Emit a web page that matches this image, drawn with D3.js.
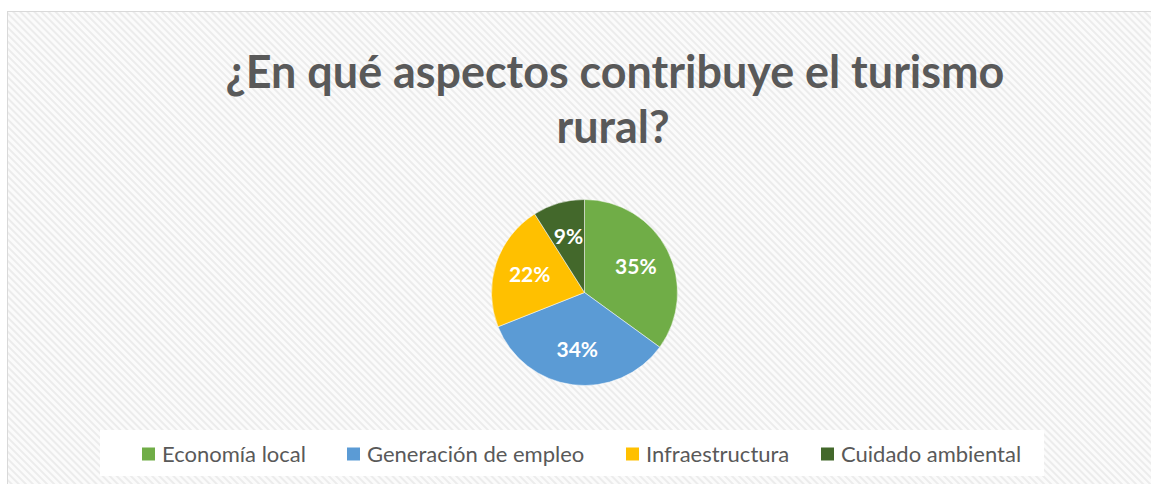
<!DOCTYPE html>
<html>
<head>
<meta charset="utf-8">
<script src="https://cdn.jsdelivr.net/npm/d3@7"></script>
<style>
  html, body { margin: 0; padding: 0; background: #fff; }
  svg { display: block; }
</style>
</head>
<body>
<svg id="chart" width="1151" height="484"></svg>
<script>
// Chart data
const TITLE_LINES = ['¿En qué aspectos contribuye el turismo', 'rural?'];
const CATEGORIES = ['Economía local', 'Generación de empleo', 'Infraestructura', 'Cuidado ambiental'];
const VALUES = [35, 34, 22, 9];
const COLORS = ['#70ad47', '#5b9bd5', '#ffc000', '#43682b'];

const FONT = 'Lato, "Open Sans", "DejaVu Sans", sans-serif';
const TEXT_COLOR = '#595959';

const svg = d3.select('#chart');
const W = +svg.attr('width');
const H = +svg.attr('height');

// striped chart-area background
const defs = svg.append('defs');
const pat = defs.append('pattern')
  .attr('id', 'stripes')
  .attr('patternUnits', 'userSpaceOnUse')
  .attr('width', 5)
  .attr('height', 5)
  .attr('patternTransform', 'rotate(-45)');
pat.append('rect').attr('width', 5).attr('height', 5).attr('fill', '#fbfbfb');
pat.append('rect').attr('width', 2).attr('height', 5).attr('fill', '#ececec');

svg.append('rect')
  .attr('x', 7.5).attr('y', 11.5)
  .attr('width', W).attr('height', H)
  .attr('fill', 'url(#stripes)')
  .attr('stroke', '#d9d9d9')
  .attr('stroke-width', 1);

// title, scaled so the first line spans about the same width as the original
const title = svg.append('g');
const titleTargets = [{ cx: 615, y: 88, w: 779 }, { cx: 613, y: 143, w: 111 }];
let titleSize = 44;
const probe = title.append('text')
  .style('font-family', FONT).style('font-weight', 700)
  .style('font-size', titleSize + 'px')
  .text(TITLE_LINES[0]);
titleSize = titleSize * titleTargets[0].w / probe.node().getComputedTextLength();
probe.remove();

title.selectAll('text')
  .data(TITLE_LINES)
  .join('text')
  .attr('x', (d, i) => titleTargets[i].cx)
  .attr('y', (d, i) => titleTargets[i].y)
  .attr('text-anchor', 'middle')
  .style('font-family', FONT)
  .style('font-weight', 700)
  .style('font-size', titleSize + 'px')
  .attr('fill', TEXT_COLOR)
  .text(d => d);

// pie
const cx = 584.5, cy = 292.5, radius = 93;
const pie = d3.pie().sort(null).value(d => d.value);
const arc = d3.arc().innerRadius(0).outerRadius(radius);
const labelArc = d3.arc().innerRadius(radius * 0.62).outerRadius(radius * 0.62);
const slices = pie(CATEGORIES.map((c, i) => ({ name: c, value: VALUES[i], color: COLORS[i] })));

const pg = svg.append('g').attr('transform', `translate(${cx},${cy})`);
pg.selectAll('path')
  .data(slices)
  .join('path')
  .attr('d', arc)
  .attr('fill', d => d.data.color)
  .attr('stroke', '#fff')
  .attr('stroke-width', 0.5);

const total = d3.sum(VALUES);
pg.selectAll('text')
  .data(slices)
  .join('text')
  .attr('transform', d => `translate(${labelArc.centroid(d)})`)
  .attr('text-anchor', 'middle')
  .attr('dy', '0.35em')
  .style('font-family', FONT)
  .style('font-weight', 700)
  .style('font-size', '21px')
  .attr('fill', '#fff')
  .text(d => Math.round(d.data.value / total * 100) + '%');

// legend
svg.append('rect')
  .attr('x', 100).attr('y', 430)
  .attr('width', 944).attr('height', 46)
  .attr('fill', '#fff');

const legendX = [142, 347, 626, 821];
const legendY = 454;
const lg = svg.append('g');
const items = lg.selectAll('g')
  .data(CATEGORIES)
  .join('g')
  .attr('transform', (d, i) => `translate(${legendX[i]},${legendY})`);
items.append('rect')
  .attr('x', 0).attr('y', -6.5)
  .attr('width', 13).attr('height', 13)
  .attr('fill', (d, i) => COLORS[i]);
items.append('text')
  .attr('x', 20)
  .attr('dy', '0.35em')
  .style('font-family', FONT)
  .style('font-size', '22px')
  .attr('fill', TEXT_COLOR)
  .text(d => d);
</script>
</body>
</html>
